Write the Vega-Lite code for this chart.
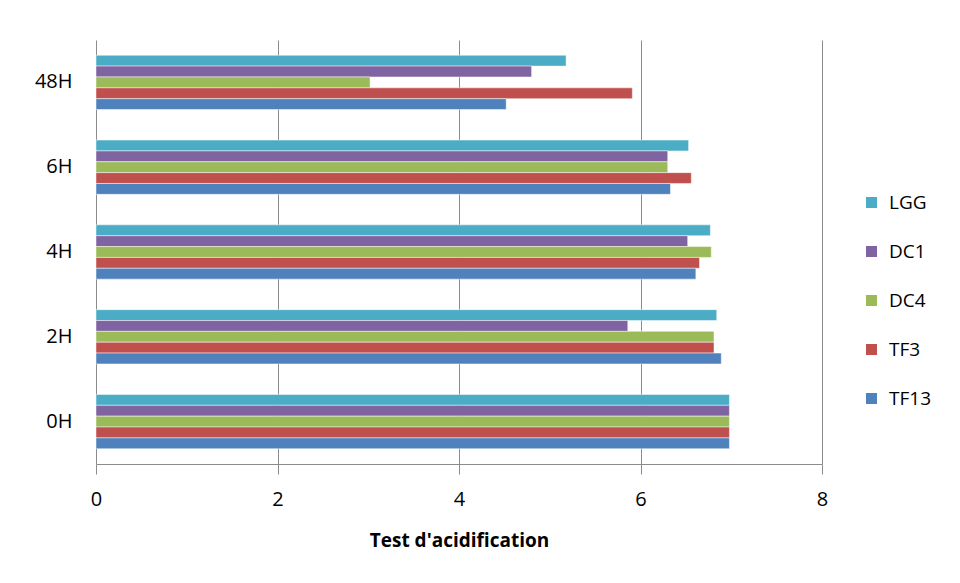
{
  "$schema": "https://vega.github.io/schema/vega-lite/v6.json",
  "autosize": {"type": "none"},
  "width": 726,
  "height": 424,
  "padding": {"left": 96, "top": 40, "right": 138, "bottom": 119},
  "background": "white",
  "config": {
    "view": {"stroke": null},
    "font": "Open Sans"
  },
  "data": {
    "values": [
      {"temps": "48H", "souche": "LGG", "valeur": 5.18},
      {"temps": "48H", "souche": "DC1", "valeur": 4.8},
      {"temps": "48H", "souche": "DC4", "valeur": 3.02},
      {"temps": "48H", "souche": "TF3", "valeur": 5.91},
      {"temps": "48H", "souche": "TF13", "valeur": 4.52},
      {"temps": "6H", "souche": "LGG", "valeur": 6.53},
      {"temps": "6H", "souche": "DC1", "valeur": 6.3},
      {"temps": "6H", "souche": "DC4", "valeur": 6.3},
      {"temps": "6H", "souche": "TF3", "valeur": 6.56},
      {"temps": "6H", "souche": "TF13", "valeur": 6.33},
      {"temps": "4H", "souche": "LGG", "valeur": 6.77},
      {"temps": "4H", "souche": "DC1", "valeur": 6.52},
      {"temps": "4H", "souche": "DC4", "valeur": 6.78},
      {"temps": "4H", "souche": "TF3", "valeur": 6.65},
      {"temps": "4H", "souche": "TF13", "valeur": 6.61},
      {"temps": "2H", "souche": "LGG", "valeur": 6.84},
      {"temps": "2H", "souche": "DC1", "valeur": 5.86},
      {"temps": "2H", "souche": "DC4", "valeur": 6.81},
      {"temps": "2H", "souche": "TF3", "valeur": 6.81},
      {"temps": "2H", "souche": "TF13", "valeur": 6.89},
      {"temps": "0H", "souche": "LGG", "valeur": 6.98},
      {"temps": "0H", "souche": "DC1", "valeur": 6.98},
      {"temps": "0H", "souche": "DC4", "valeur": 6.98},
      {"temps": "0H", "souche": "TF3", "valeur": 6.98},
      {"temps": "0H", "souche": "TF13", "valeur": 6.98}
    ]
  },
  "mark": {"type": "bar", "stroke": "#ffffff", "strokeOpacity": 0.6, "strokeWidth": 0.8},
  "encoding": {
    "y": {
      "field": "temps",
      "type": "nominal",
      "scale": {"domain": ["48H", "6H", "4H", "2H", "0H"], "paddingInner": 0.36, "paddingOuter": 0.18},
      "axis": {
        "title": null,
        "ticks": false,
        "domain": false,
        "grid": false,
        "labelFontSize": 20,
        "labelColor": "#000000",
        "labelPadding": 24
      }
    },
    "yOffset": {
      "field": "souche",
      "type": "nominal",
      "scale": {"domain": ["LGG", "DC1", "DC4", "TF3", "TF13"]}
    },
    "x": {
      "field": "valeur",
      "type": "quantitative",
      "scale": {"domain": [0, 8], "nice": false},
      "axis": {
        "values": [0, 2, 4, 6, 8],
        "title": "Test d'acidification",
        "titleFontSize": 19,
        "titleFontWeight": "bold",
        "titleColor": "#000000",
        "titlePadding": 22,
        "labelFontSize": 20,
        "labelColor": "#000000",
        "labelPadding": 15,
        "labelFlush": false,
        "tickSize": 10,
        "tickColor": "#8c8c8c",
        "domainColor": "#8c8c8c",
        "grid": true,
        "gridColor": "#8c8c8c",
        "gridWidth": 1
      }
    },
    "color": {
      "field": "souche",
      "type": "nominal",
      "scale": {
        "domain": ["LGG", "DC1", "DC4", "TF3", "TF13"],
        "range": ["#4BACC6", "#8064A2", "#9BBB59", "#C0504D", "#4F81BD"]
      },
      "legend": {
        "title": null,
        "orient": "none",
        "legendX": 766,
        "legendY": 153,
        "padding": 0,
        "symbolType": "square",
        "symbolSize": 121,
        "symbolStrokeWidth": 0,
        "labelFontSize": 19,
        "labelColor": "#000000",
        "labelOffset": 8,
        "rowPadding": 29
      }
    }
  }
}
